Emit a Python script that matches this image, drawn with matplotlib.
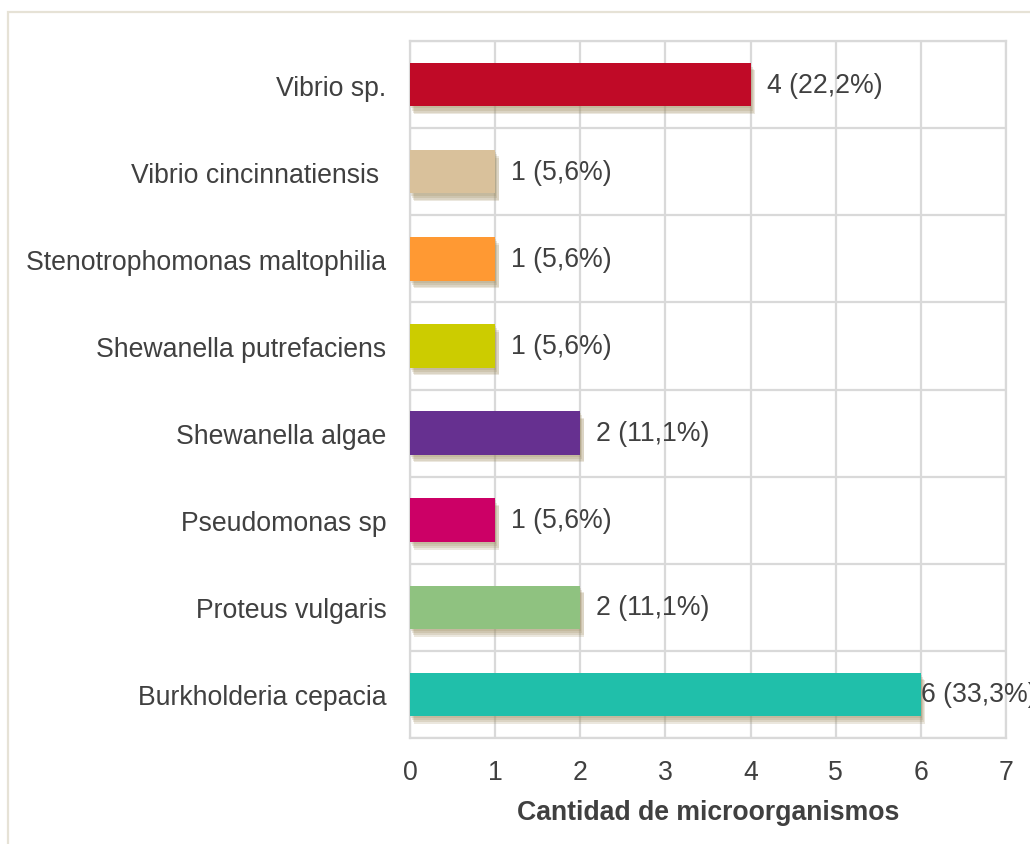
import matplotlib
matplotlib.use("Agg")
import matplotlib.pyplot as plt
import matplotlib.patheffects as pe
from matplotlib.patches import Rectangle

categories = ["Burkholderia cepacia", "Proteus vulgaris", "Pseudomonas sp",
              "Shewanella algae", "Shewanella putrefaciens",
              "Stenotrophomonas maltophilia", "Vibrio cincinnatiensis ", "Vibrio sp."]
values = [6, 2, 1, 2, 1, 1, 1, 4]
labels = ["6 (33,3%)", "2 (11,1%)", "1 (5,6%)", "2 (11,1%)", "1 (5,6%)",
          "1 (5,6%)", "1 (5,6%)", "4 (22,2%)"]
colors = ["#20bfaa", "#8fc280", "#cc0066", "#663090", "#cccc00",
          "#ff9933", "#d9c19b", "#c00a27"]
xticks = [0, 1, 2, 3, 4, 5, 6, 7]
xlabel = "Cantidad de microorganismos"

plt.rcParams['font.family'] = ['Liberation Sans', 'DejaVu Sans']
FS = 19.2
W, H = 1030, 845
fig = plt.figure(figsize=(W / 100, H / 100), dpi=100)
fig.patch.set_facecolor("white")

# outer frame
fig.patches.append(Rectangle((8 / W, -0.1), 1.2, 1 - 13 / H + 0.1,
                             transform=fig.transFigure, fill=False,
                             edgecolor="#e6e2d6", linewidth=1.6, zorder=0))

ax = fig.add_axes([410 / W, 1 - 739 / H, (1006 - 410) / W, (739 - 42) / H])
ypos = list(range(len(categories)))

shadow = [pe.SimplePatchShadow(offset=(ox, oy), shadow_rgbFace="#9c8a5c", alpha=0.2)
          for ox, oy in ((0.5, -1.5), (1.5, -3.0), (2.5, -4.5), (3.0, -5.5))] + [pe.Normal()]
bars = ax.barh(ypos, values, height=0.5, color=colors, zorder=3)
for b in bars:
    b.set_path_effects(shadow)

vmax = max(values)
for y, v, lab in zip(ypos, values, labels):
    off = 0.0 if v == vmax else 0.19
    ax.text(v + off, y, lab, va="center", ha="left", fontsize=FS,
            color="#404040", zorder=4, clip_on=False)

ax.set_xlim(0, 7)
ax.set_ylim(-0.5, len(categories) - 0.5)
ax.set_xticks(xticks)
ax.set_yticks(ypos)
ax.set_yticklabels(categories)
ax.set_yticks([k + 0.5 for k in range(-1, len(categories))], minor=True)
ax.grid(True, axis="x", color="#d9d9d9", linewidth=1.6, zorder=0)
ax.grid(True, axis="y", which="minor", color="#d9d9d9", linewidth=1.6, zorder=0)
ax.tick_params(axis="both", which="both", length=0, labelsize=FS, colors="#404040")
ax.tick_params(axis="y", pad=17)
ax.tick_params(axis="x", pad=15)
for s in ax.spines.values():
    s.set_color("#d9d9d9")
    s.set_linewidth(1.6)
ax.set_axisbelow(True)
ax.set_xlabel(xlabel, fontsize=FS, fontweight="bold", color="#404040", labelpad=10)

fig.savefig("out.png", dpi=100)
